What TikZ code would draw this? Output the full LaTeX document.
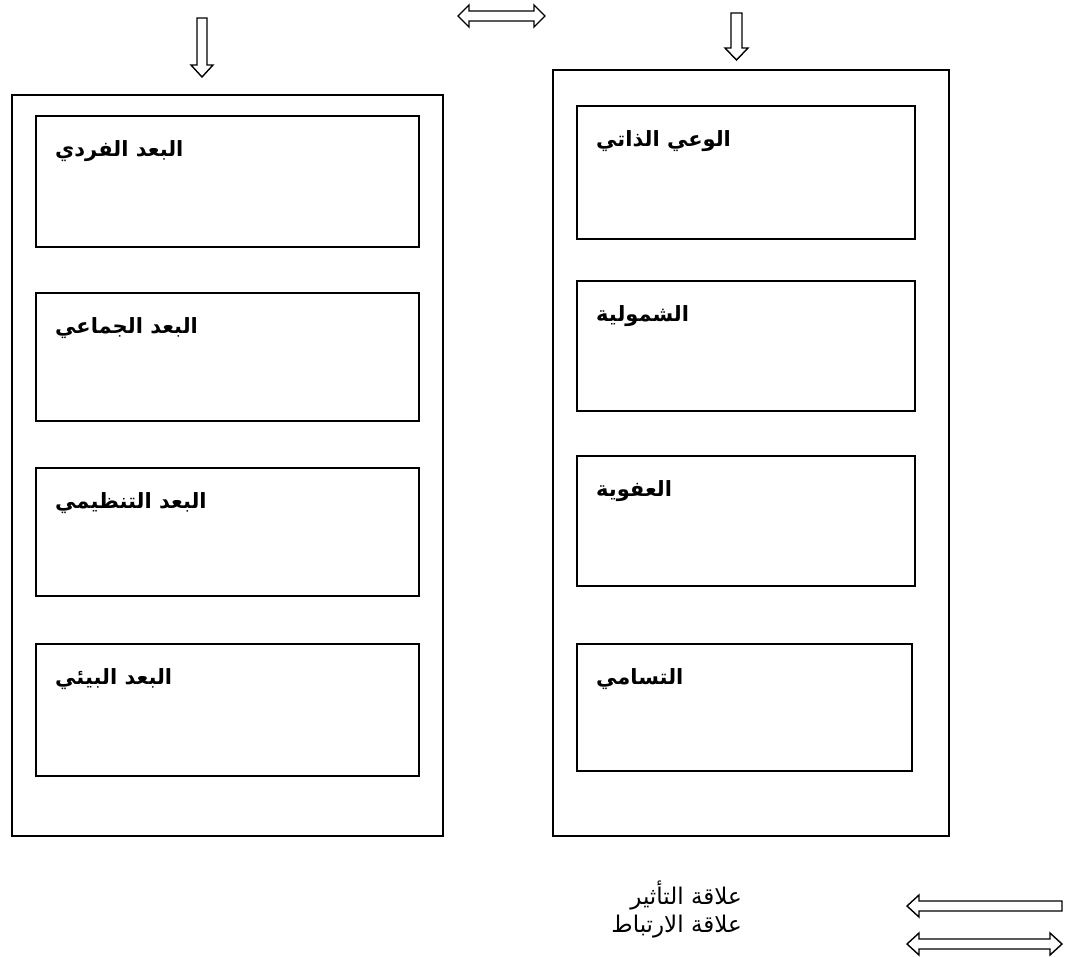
\documentclass[tikz,border=0pt]{standalone}
\usepackage{fontspec}
\newfontfamily\arabicfont[Script=Arabic]{DejaVu Sans}
\TeXXeTstate=1
\begin{document}
\begin{tikzpicture}[x=1pt,y=-1pt,
  frame/.style={draw,line width=1.5pt},
  itembox/.style={draw,line width=1.5pt,anchor=north west,inner sep=0pt},
  itemtext/.style={anchor=west,inner sep=0pt,font=\arabicfont\bfseries\fontsize{21}{25}\selectfont},
  legendtext/.style={anchor=east,inner sep=0pt,font=\arabicfont\fontsize{23}{27}\selectfont},
  arrowshape/.style={draw,line width=1.4pt,fill=white,line join=miter}]
\useasboundingbox (0,0) rectangle (1073,956);

% outer frames
\draw[frame] (12,95) rectangle (443,836);
\draw[frame] (553,70) rectangle (949,836);

% an item: framed box with its title near the upper left corner
\newcommand\itembox[6]{%
  \node[itembox,minimum width=#4pt,minimum height=#5pt] (#1) at (#2,#3) {};
  \node[itemtext] (#1t) at ([xshift=20pt,yshift=-36pt]#1.north west) {#6};}

% left column items
\itembox{l1}{35}{115}{383}{131}{\beginR البعد الفردي\endR}
\itembox{l2}{35}{292}{383}{128}{\beginR البعد الجماعي\endR}
\itembox{l3}{35}{467}{383}{128}{\beginR البعد التنظيمي\endR}
\itembox{l4}{35}{643}{383}{132}{\beginR البعد البيئي\endR}

% right column items
\itembox{r1}{576}{105}{338}{133}{\beginR الوعي الذاتي\endR}
\itembox{r2}{576}{280}{338}{130}{\beginR الشمولية\endR}
\itembox{r3}{576}{455}{338}{130}{\beginR العفوية\endR}
\itembox{r4}{576}{643}{335}{127}{\beginR التسامي\endR}

% downward arrows above the frames
\draw[arrowshape] (197,18) -- (207,18) -- (207,65) -- (213,65) -- (202,77)
  -- (191,65) -- (197,65) -- cycle;
\draw[arrowshape] (731,13) -- (742,13) -- (742,48) -- (748,48) -- (736.5,60)
  -- (725,48) -- (731,48) -- cycle;

% two-way arrow between the frames
\draw[arrowshape] (458,16) -- (469,5) -- (469,11) -- (534,11) -- (534,5) -- (545,16)
  -- (534,27) -- (534,21) -- (469,21) -- (469,27) -- cycle;

% legend
\draw[arrowshape] (907,906) -- (919,895) -- (919,901) -- (1062,901) -- (1062,911)
  -- (919,911) -- (919,917) -- cycle;
\draw[arrowshape] (907,944) -- (919,933) -- (919,939) -- (1050,939) -- (1050,933)
  -- (1062,944) -- (1050,955) -- (1050,949) -- (919,949) -- (919,955) -- cycle;
\node[legendtext] (lg1) at (742,895) {\beginR علاقة التأثير\endR};
\node[legendtext] (lg2) at (742,927) {\beginR علاقة الارتباط\endR};
\end{tikzpicture}
\end{document}
